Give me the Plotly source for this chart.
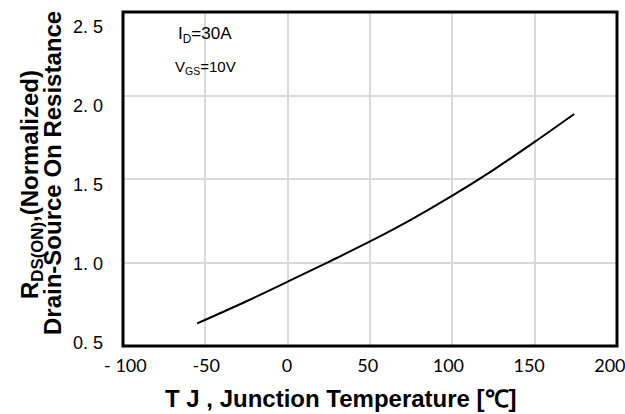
import plotly.graph_objects as go

temps = [-55, -25, 0, 25, 50, 75, 100, 125, 150, 174]
rds_norm = [0.635, 0.768, 0.885, 1.004, 1.126, 1.257, 1.400, 1.555, 1.722, 1.889]

x_ticks = [-100, -50, 0, 50, 100, 150, 200]
x_ticktext = ["- 100", "-50", "0", "50", "100", "150", "200"]
y_ticks = [0.5, 1.0, 1.5, 2.0, 2.5]
y_ticktext = ["0. 5", "1. 0", "1. 5", "2. 0", "2. 5"]

fig = go.Figure()
fig.add_trace(go.Scatter(x=temps, y=rds_norm, mode="lines",
                         line=dict(color="black", width=2, shape="spline", smoothing=1),
                         showlegend=False, hoverinfo="skip"))
# invisible trace that carries the label axes
fig.add_trace(go.Scatter(x=temps, y=rds_norm, mode="lines", xaxis="x2", yaxis="y2",
                         line=dict(width=0), opacity=0,
                         showlegend=False, hoverinfo="skip"))

fig.update_layout(
    width=625, height=414, autosize=False,
    margin=dict(l=123, r=8, t=12, b=68, autoexpand=False),
    paper_bgcolor="white", plot_bgcolor="white",
    font=dict(family="Liberation Sans, Arial", color="black"),
    xaxis=dict(range=[-100, 200], tickvals=x_ticks, showticklabels=False,
               showgrid=True, gridcolor="rgb(217,217,217)", gridwidth=2,
               showline=False, ticks="", zeroline=False, automargin=False),
    yaxis=dict(range=[0.5, 2.5], tickvals=y_ticks, showticklabels=False,
               showgrid=True, gridcolor="rgb(217,217,217)", gridwidth=2,
               showline=False, ticks="", zeroline=False, automargin=False),
    xaxis2=dict(overlaying="x", side="bottom", range=[-101.5, 204.4],
                tickvals=x_ticks, ticktext=x_ticktext, showgrid=False,
                showline=False, zeroline=False, ticks="", automargin=False,
                ticklabeloverflow="allow", ticklabelstandoff=7,
                tickfont=dict(size=18, family="Lato, Liberation Sans")),
    yaxis2=dict(overlaying="y", side="left", range=[0.478, 2.592],
                tickvals=y_ticks, ticktext=y_ticktext, showgrid=False,
                showline=False, zeroline=False, ticks="", automargin=False,
                ticklabeloverflow="allow", ticklabelstandoff=19,
                tickfont=dict(size=18, family="Liberation Sans")),
    shapes=[dict(type="rect", xref="paper", yref="paper", x0=0, x1=1, y0=0, y1=1,
                 line=dict(color="black", width=3), layer="above")],
    annotations=[
        dict(x=-50, y=2.36, xref="x", yref="y", text="I<sub>D</sub>=30A",
             showarrow=False, font=dict(size=17, family="Liberation Sans")),
        dict(x=-50, y=2.17, xref="x", yref="y", text="V<sub>GS</sub>=10V",
             showarrow=False, font=dict(size=15, family="Liberation Sans")),
        dict(x=0.442, y=0, xref="paper", yref="paper", yshift=-52,
             xanchor="center", yanchor="middle",
             text="<b>T J , Junction Temperature [℃]</b>",
             showarrow=False, font=dict(size=24, family="Liberation Sans")),
        dict(x=0, y=0.482, xref="paper", yref="paper", xshift=-92,
             xanchor="center", yanchor="middle",
             text="<b>R<sub>DS(ON)</sub>,(Normalized)</b>", textangle=-90,
             showarrow=False, font=dict(size=24, family="Liberation Sans")),
        dict(x=0, y=0.518, xref="paper", yref="paper", xshift=-70,
             xanchor="center", yanchor="middle",
             text="<b>Drain-Source On Resistance</b>", textangle=-90,
             showarrow=False, font=dict(size=24, family="Liberation Sans")),
    ],
)

fig.write_html("out.html", config={"displayModeBar": False},
               post_script="document.body.style.margin='0';document.body.style.overflow='hidden';")
